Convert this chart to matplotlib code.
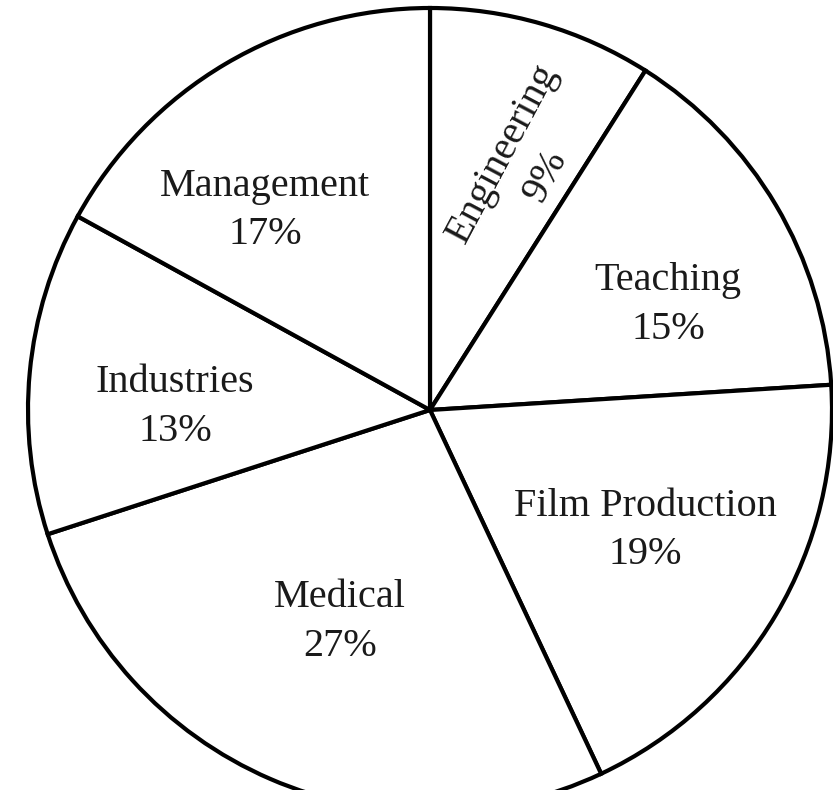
import matplotlib
matplotlib.use("Agg")
import matplotlib.pyplot as plt

# ---- data ----
categories = ["Engineering", "Teaching", "Film Production", "Medical", "Industries", "Management"]
shares = [9, 15, 19, 27, 13, 17]

# ---- layout (label anchor positions in pie units, rotation) ----
label_pos = [(0.235, 0.610), (0.592, 0.262), (0.535, -0.300),
             (-0.224, -0.527), (-0.634, 0.008), (-0.410, 0.496)]
label_rot = [62, 0, 0, 0, 0, 0]

W, H = 833, 790
cx, cy, R = 430, 410, 402

fig = plt.figure(figsize=(W / 100, H / 100), dpi=100)
ax = fig.add_axes([0, 0, 1, 1])
ax.pie(shares, startangle=90, counterclock=False, radius=1,
       colors=["white"] * len(shares),
       wedgeprops=dict(edgecolor="black", linewidth=3.0))
ax.set_xlim(-cx / R, (W - cx) / R)
ax.set_ylim((cy - H) / R, cy / R)
ax.set_aspect("equal")
ax.axis("off")

for name, val, (x, y), rot in zip(categories, shares, label_pos, label_rot):
    ax.text(x, y, f"{name}\n{val}%", ha="center", va="center",
            rotation=rot, rotation_mode="anchor",
            fontsize=29, family="Liberation Serif", color="#1a1a1a",
            linespacing=1.42, multialignment="center")

fig.savefig("out.png", dpi=100)
